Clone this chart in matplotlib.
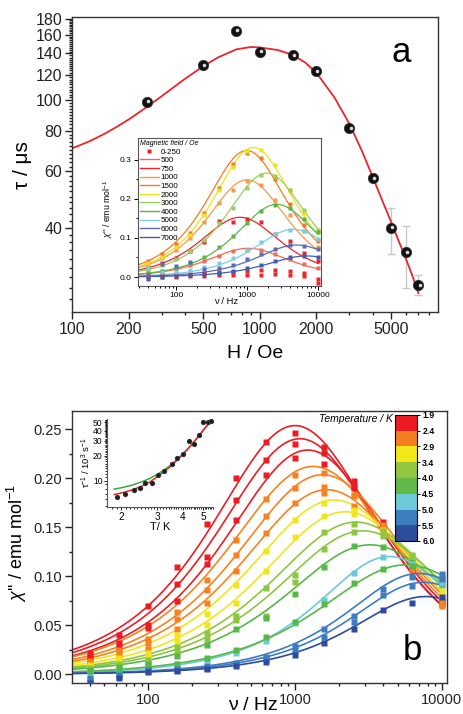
import numpy as np
import matplotlib
matplotlib.use('Agg')
import matplotlib.pyplot as plt
import matplotlib.transforms as mtransforms
from matplotlib.colors import ListedColormap, BoundaryNorm
from matplotlib.cm import ScalarMappable
from matplotlib.ticker import NullFormatter
from matplotlib.lines import Line2D

plt.rcParams['font.family'] = ['Liberation Sans', 'DejaVu Sans']
plt.rcParams['mathtext.fontset'] = 'custom'
plt.rcParams['mathtext.rm'] = 'Liberation Sans'
plt.rcParams['mathtext.it'] = 'Liberation Sans:italic'
plt.rcParams['axes.linewidth'] = 1.0

# ---------------- Panel a : tau vs H ----------------
field_H = [250, 500, 750, 1000, 1500, 2000, 3000, 4000, 5000, 6000, 7000]
tau_us = [99, 129, 165, 142, 138, 123, 82, 57, 40, 33.5, 26.5]
tau_err_lo = [0, 0, 0, 0, 0, 0, 0, 0, 7.0, 7.5, 1.8]
tau_err_hi = [0, 0, 0, 0, 0, 0, 0, 0, 6.0, 7.0, 2.0]
fit_H = [100, 125, 150, 175, 200, 250, 300, 400, 500, 600, 750, 900, 1000, 1250, 1500,
         1750, 2000, 2500, 3000, 3500, 4000, 4500, 5000, 5500, 6000, 6500, 7000]
fit_tau = [70.7, 74.6, 78.7, 82.9, 87.0, 95.2, 102.9, 116.7, 127.7, 136.1, 144.2, 146.7,
           146.2, 143.5, 138.5, 131.0, 122.0, 102.0, 84.5, 69.5, 57.5, 48.5, 41.8, 36.3,
           32.0, 28.3, 25.0]

# inset of panel a : chi'' vs nu at several fields
nu = [40, 63, 100, 158, 251, 398, 631, 1000, 1585, 2512, 3981, 6310, 10000]
field0_chi = [0.000, 0.001, 0.001, 0.002, 0.003, 0.004, 0.005, 0.005, 0.006, 0.007, 0.006, 0.003, -0.015]
field250_chi = [0.006, 0.006, 0.007, 0.008, 0.010, 0.012, 0.014, 0.016, 0.018, 0.018, 0.015, 0.010, -0.006]
inset_fields = ['500', '750', '1000', '1500', '2000', '3000', '4000', '5000', '6000', '7000']
inset_colors = ['#f06a5f', '#e8262b', '#f59a4c', '#f47b20', '#efe11a',
                '#9ccc65', '#5cb646', '#79cfe0', '#5a6bb8', '#3f5fb4']
inset_peak_h = [0.0736, 0.153, 0.249, 0.324, 0.3316, 0.266, 0.186, 0.122, 0.082, 0.054]
inset_peak_f = [1040, 800, 1000, 990, 1230, 1890, 2620, 4490, 5000, 6900]
inset_alpha = [0.1, 0.1, 0.1, 0.1, 0.1, 0.1, 0.1, 0.1, 0.1, 0.1]
inset_chi = [
    [0.010, 0.015, 0.022, 0.031, 0.041, 0.053, 0.066, 0.069, 0.068, 0.060, 0.046, 0.033, 0.023],
    [0.024, 0.036, 0.048, 0.067, 0.090, 0.143, 0.142, 0.148, 0.140, 0.109, 0.091, 0.062, 0.040],
    [0.034, 0.048, 0.070, 0.100, 0.140, 0.190, 0.222, 0.246, 0.236, 0.196, 0.160, 0.118, 0.078],
    [0.040, 0.058, 0.085, 0.114, 0.164, 0.227, 0.290, 0.317, 0.306, 0.250, 0.188, 0.133, 0.092],
    [0.036, 0.052, 0.078, 0.108, 0.158, 0.222, 0.283, 0.323, 0.324, 0.286, 0.224, 0.165, 0.115],
    [0.021, 0.031, 0.045, 0.066, 0.096, 0.138, 0.178, 0.228, 0.262, 0.258, 0.222, 0.172, 0.120],
    [0.011, 0.016, 0.024, 0.036, 0.052, 0.076, 0.104, 0.138, 0.168, 0.184, 0.176, 0.148, 0.115],
    [0.024, 0.012, 0.012, 0.017, 0.025, 0.035, 0.049, 0.068, 0.089, 0.110, 0.121, 0.117, 0.098],
    [0.006, 0.034, 0.027, 0.039, 0.020, 0.024, 0.032, 0.046, 0.058, 0.073, 0.082, 0.080, 0.072],
    [-0.005, 0.000, 0.002, 0.005, 0.008, 0.011, 0.016, 0.024, 0.032, 0.042, 0.050, 0.054, 0.050],
]

# ---------------- Panel b : chi'' vs nu at several T ----------------
b_colors = ['#ed1c24', '#ed1c24', '#ed1c24', '#f7821e', '#f7821e', '#f7821e',
            '#f2e51c', '#f2e51c', '#8dc63f', '#8dc63f', '#57b847', '#6acbd8',
            '#57b847', '#3e7cc0', '#3e7cc0', '#2f4a9e']
b_peak_h = [0.254, 0.2406, 0.229, 0.2123, 0.2038, 0.1885, 0.178, 0.166,
            0.1554, 0.1465, 0.1322, 0.1203, 0.1118, 0.103, 0.094, 0.0794]
b_peak_f = [1000, 1080, 1220, 1330, 1540, 1650, 1850, 2200,
            2600, 2900, 3250, 4400, 5700, 7000, 7500, 7800]
b_alpha = [0.1, 0.1, 0.1, 0.12, 0.12, 0.12, 0.12, 0.12,
           0.12, 0.12, 0.12, 0.02, 0.12, 0.03, 0.03, 0.03]
b_chi = [
    [0.022, 0.040, 0.070, 0.110, 0.153, 0.200, 0.237, 0.246, 0.232, 0.197, 0.156, 0.110, 0.075],
    [0.019, 0.032, 0.050, 0.092, 0.120, 0.178, 0.219, 0.235, 0.226, 0.193, 0.150, 0.108, 0.074],
    [0.016, 0.029, 0.047, 0.075, 0.113, 0.158, 0.204, 0.221, 0.215, 0.190, 0.150, 0.110, 0.072],
    [0.014, 0.025, 0.036, 0.064, 0.096, 0.137, 0.179, 0.204, 0.206, 0.182, 0.145, 0.108, 0.070],
    [0.012, 0.022, 0.032, 0.056, 0.086, 0.122, 0.162, 0.190, 0.191, 0.183, 0.152, 0.116, 0.072],
    [0.011, 0.019, 0.026, 0.046, 0.073, 0.105, 0.144, 0.175, 0.185, 0.172, 0.148, 0.112, 0.076],
    [0.009, 0.017, 0.022, 0.040, 0.062, 0.091, 0.126, 0.158, 0.175, 0.168, 0.147, 0.116, 0.080],
    [0.008, 0.013, 0.018, 0.034, 0.050, 0.073, 0.105, 0.140, 0.162, 0.164, 0.146, 0.118, 0.085],
    [0.006, 0.011, 0.015, 0.028, 0.042, 0.060, 0.088, 0.101, 0.145, 0.153, 0.146, 0.122, 0.091],
    [0.005, 0.009, 0.012, 0.024, 0.036, 0.055, 0.060, 0.094, 0.128, 0.145, 0.141, 0.121, 0.094],
    [0.004, 0.007, 0.010, 0.019, 0.030, 0.046, 0.057, 0.082, 0.110, 0.131, 0.130, 0.115, 0.092],
    [0.002, 0.004, 0.006, 0.010, 0.015, 0.022, 0.034, 0.052, 0.076, 0.103, 0.120, 0.113, 0.093],
    [0.003, 0.005, 0.008, 0.011, 0.017, 0.025, 0.038, 0.053, 0.072, 0.093, 0.108, 0.111, 0.099],
    [-0.004, -0.001, 0.004, 0.005, 0.008, 0.012, 0.018, 0.029, 0.046, 0.060, 0.087, 0.099, 0.102],
    [-0.006, -0.002, 0.003, 0.004, 0.006, 0.010, 0.016, 0.025, 0.038, 0.053, 0.081, 0.090, 0.097],
    [-0.009, -0.004, 0.002, 0.003, 0.005, 0.008, 0.013, 0.020, 0.032, 0.046, 0.066, 0.073, 0.079],
]
temp_bounds = [1.9, 2.4, 2.9, 3.4, 4.0, 4.5, 5.0, 5.5, 6.0]
temp_band_colors = ['#ed1c24', '#f47f21', '#f3e61b', '#93c83e', '#62b848',
                    '#6ccbd9', '#3d7ebf', '#2e4c9c']

# inset of panel b : 1/tau vs T
T_K = [1.9, 2.09, 2.3, 2.48, 2.62, 2.82, 3.02, 3.24, 3.54, 3.74, 4.0, 4.26, 4.51, 4.79, 5.01, 5.27, 5.48]
tau_inv = [6.3, 6.85, 7.73, 8.24, 9.3, 9.46, 11.7, 13.2, 15.9, 18.6, 20.8, 30.3, 27.2, 35.3, 50, 50, 51.4]
fitT = [1.85, 2.0, 2.25, 2.5, 2.75, 3.0, 3.25, 3.5, 3.75, 4.0, 4.25, 4.5, 4.75, 5.0, 5.25, 5.5]
fit_red = [6.8, 7.1, 7.7, 8.5, 9.6, 11.1, 12.9, 15.0, 17.7, 20.8, 24.5, 28.8, 34.0, 40.0, 46.5, 53.0]
fit_green = [7.9, 8.2, 8.8, 9.6, 10.6, 11.9, 13.5, 15.5, 18.0, 21.0, 24.5, 28.6, 33.5, 39.3, 45.8, 53.0]


def gen_debye(f, h, fp, a):
    u = (np.asarray(f) / fp) ** (1 - a)
    s = np.sin(a * np.pi / 2)
    return h * 2 * u * (1 + s) / (1 + 2 * u * s + u ** 2)


W, H = 463, 714
fig = plt.figure(figsize=(W / 100, H / 100), dpi=100)


def rect(x0, y0, x1, y1):
    return [x0 / W, 1 - y1 / H, (x1 - x0) / W, (y1 - y0) / H]


# ---------- panel a ----------
axA = fig.add_axes(rect(72, 17, 438, 312))
axA.set_xscale('log')
axA.set_yscale('log')
axA.set_xlim(100, 8900)
axA.set_ylim(21.8, 182)
axA.plot(fit_H, fit_tau, color='#e8262b', lw=1.3, zorder=2, solid_joinstyle='round')
axA.errorbar(field_H, tau_us, yerr=[tau_err_lo, tau_err_hi], fmt='none',
             ecolor='#c8c8c8', elinewidth=1.0, capsize=3, capthick=1.0, zorder=1)
axA.plot(field_H, tau_us, 'o', ms=7.4, mfc='#111111', mec='#333333', mew=0.6, zorder=3)
hl = mtransforms.offset_copy(axA.transData, fig=fig, x=1.2, y=0.3, units='dots')
axA.plot(field_H, tau_us, 'o', ms=2.6, mfc='#d8d8d8', mec='none', transform=hl, zorder=4)
axA.set_xticks([100, 200, 500, 1000, 2000, 5000], labels=['100', '200', '500', '1000', '2000', '5000'])
axA.set_xticks([300, 400, 600, 700, 800, 900, 3000, 4000, 6000, 7000, 8000], minor=True)
axA.set_yticks([40, 60, 80, 100, 120, 140, 160, 180], labels=['40', '60', '80', '100', '120', '140', '160', '180'])
axA.set_yticks(np.arange(24, 181, 2), minor=True)
axA.xaxis.set_minor_formatter(NullFormatter())
axA.yaxis.set_minor_formatter(NullFormatter())
axA.tick_params(which='both', direction='out', top=False, right=False, labelsize=11.5, width=1.0, colors='#222222')
axA.tick_params(which='major', length=5, pad=2)
axA.tick_params(which='minor', length=2.5)
for sp in axA.spines.values():
    sp.set_color('#333333')
axA.text(0.899, 0.881, 'a', transform=axA.transAxes, fontsize=25, ha='center', va='center')
fig.text(255 / W, 1 - 354 / H, 'H / Oe', fontsize=14, ha='center', va='center')
fig.text(22 / W, 1 - 165 / H, 'τ / μs', fontsize=15, ha='center', va='center', rotation=90)

# ---------- inset of panel a ----------
axI = fig.add_axes(rect(138, 138, 321, 286))
axI.set_facecolor('white')
axI.set_xscale('log')
axI.set_xlim(29.2, 11000)
axI.set_ylim(-0.023, 0.356)
fline = np.logspace(np.log10(30), 4, 200)
for c, hgt, fp, a in zip(inset_colors, inset_peak_h, inset_peak_f, inset_alpha):
    axI.plot(fline, gen_debye(fline, hgt, fp, a), color=c, lw=0.9, zorder=2)
axI.plot(nu, field0_chi, 's', ms=2.4, color='#e8262b', mec='none', zorder=3)
axI.plot(nu, field250_chi, 's', ms=2.4, color='#e8262b', mec='none', zorder=3)
for c, vals in zip(inset_colors, inset_chi):
    axI.plot(nu, vals, 's', ms=2.4, color=c, mec='none', zorder=3)
axI.set_xticks([100, 1000, 10000], labels=['100', '1000', '10000'])
axI.set_yticks([0.0, 0.1, 0.2, 0.3], labels=['0.0', '0.1', '0.2', '0.3'])
axI.set_yticks([0.05, 0.15, 0.25], minor=True)
axI.xaxis.set_minor_formatter(NullFormatter())
axI.tick_params(which='both', direction='out', top=False, right=False, labelsize=6, width=0.7, pad=1.5)
axI.tick_params(which='major', length=3)
axI.tick_params(which='minor', length=1.6)
for sp in axI.spines.values():
    sp.set_color('#555555')
    sp.set_linewidth(0.8)
handles = [Line2D([], [], ls='none', marker='s', ms=2.6, color='#e8262b', mec='none')]
handles += [Line2D([], [], color=c, lw=1.0) for c in inset_colors]
leg = axI.legend(handles, ['0-250'] + inset_fields, loc='upper left', bbox_to_anchor=(0.0, 1.0),
                 frameon=False, fontsize=5.8, title='Magnetic field / Oe', title_fontsize=5.0,
                 handlelength=2.3, handletextpad=0.25, labelspacing=0.12, borderaxespad=0.1,
                 borderpad=0.15, alignment='left')
leg.get_title().set_style('italic')
fig.text(108 / W, 1 - 209 / H, "$\\chi$'' / emu mol$^{-1}$", fontsize=6.3, ha='center', va='center', rotation=90)
fig.text(226 / W, 1 - 301 / H, 'ν / Hz', fontsize=6.8, ha='center', va='center')

# ---------- panel b ----------
axB = fig.add_axes(rect(72, 410.7, 447, 683))
axB.set_xscale('log')
axB.set_xlim(30.2, 10860)
axB.set_ylim(-0.0089, 0.2692)
fline_b = np.logspace(np.log10(30), 4, 250)
for c, hgt, fp, a in zip(b_colors, b_peak_h, b_peak_f, b_alpha):
    axB.plot(fline_b, gen_debye(fline_b, hgt, fp, a), color=c, lw=1.2, zorder=2)
for c, vals in zip(b_colors, b_chi):
    axB.plot(nu, vals, 's', ms=4.6, color=c, mec='none', zorder=3)
axB.set_xticks([100, 1000, 10000], labels=['100', '1000', '10000'])
axB.set_yticks([0.0, 0.05, 0.10, 0.15, 0.20, 0.25],
               labels=['0.00', '0.05', '0.10', '0.15', '0.20', '0.25'])
axB.set_yticks([0.025, 0.075, 0.125, 0.175, 0.225], minor=True)
axB.xaxis.set_minor_formatter(NullFormatter())
axB.tick_params(which='both', direction='out', top=False, right=False, labelsize=10.5, width=1.0, colors='#222222')
axB.tick_params(which='major', length=5, pad=2)
axB.tick_params(which='minor', length=2.5)
for sp in axB.spines.values():
    sp.set_color('#333333')
axB.text(0.907, 0.121, 'b', transform=axB.transAxes, fontsize=25, ha='center', va='center')
fig.text(17 / W, 1 - 543 / H, "$\\chi$'' / emu mol$^{-1}$", fontsize=13, ha='center', va='center', rotation=90)
fig.text(253 / W, 1 - 705 / H, 'ν / Hz', fontsize=14, ha='center', va='center')

# ---------- inset of panel b ----------
axT = fig.add_axes(rect(106.7, 419, 213, 506.7))
axT.set_facecolor('none')
axT.set_xscale('log')
axT.set_yscale('log')
axT.set_xlim(1.7, 5.6)
axT.set_ylim(4.86, 55)
axT.plot(fitT, fit_green, color='#3aa845', lw=1.1, zorder=2)
axT.plot(fitT, fit_red, color='#e8262b', lw=1.1, zorder=2)
axT.plot(T_K, tau_inv, 'o', ms=2.8, color='#111111', mec='#333333', zorder=3)
axT.spines['top'].set_visible(False)
axT.spines['right'].set_visible(False)
for sp in ['left', 'bottom']:
    axT.spines[sp].set_color('#555555')
    axT.spines[sp].set_linewidth(0.8)
axT.set_xticks([2, 3, 4, 5], labels=['2', '3', '4', '5'])
axT.set_xticks(np.round(np.arange(1.8, 5.61, 0.1), 2), minor=True)
axT.set_yticks([10, 20, 30, 40, 50], labels=['10', '20', '30', '40', '50'])
axT.set_yticks(np.arange(5, 55, 1), minor=True)
axT.xaxis.set_minor_formatter(NullFormatter())
axT.yaxis.set_minor_formatter(NullFormatter())
axT.tick_params(which='both', direction='out', labelsize=7.2, width=0.6, pad=1)
axT.tick_params(axis='y', which='major', labelsize=6.2, pad=0.5)
axT.tick_params(which='major', length=2.5)
axT.tick_params(which='minor', length=1.3)
axT.set_xlabel('T/ K', fontsize=8, labelpad=0)
axT.set_ylabel('τ$^{-1}$ / 10$^{3}$ s$^{-1}$', fontsize=6.8, labelpad=0)

# ---------- colorbar ----------
cax = fig.add_axes(rect(395, 415, 416.7, 541))
cmap = ListedColormap(temp_band_colors)
norm = BoundaryNorm(temp_bounds, cmap.N)
cb = fig.colorbar(ScalarMappable(norm=norm, cmap=cmap), cax=cax, ticks=temp_bounds, spacing='uniform')
cax.invert_yaxis()
cb.ax.set_yticks(temp_bounds, labels=['%.1f' % t for t in temp_bounds])
cb.ax.tick_params(labelsize=6.3, length=2.5, width=0.7, pad=1.5)
for t in cb.ax.get_yticklabels():
    t.set_fontweight('bold')
cb.outline.set_linewidth(0.8)
fig.text(393 / W, 1 - 419 / H, 'Temperature / K', fontsize=7.5, style='italic', ha='right', va='center')

fig.savefig('out.png', dpi=100)
